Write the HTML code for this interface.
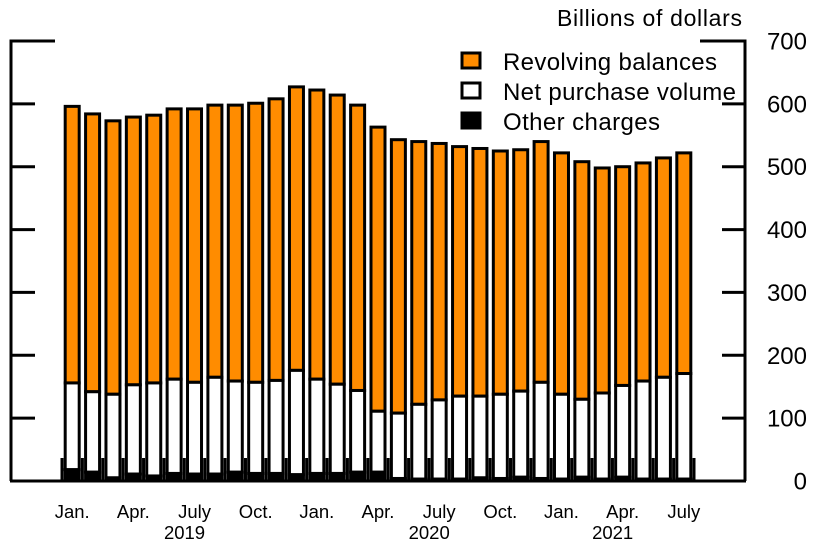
<!DOCTYPE html>
<html><head><meta charset="utf-8"><style>
html,body{margin:0;padding:0;background:#fff;}
svg{display:block;font-family:"Liberation Sans",sans-serif;}
</style></head><body>
<svg id="chart" width="823" height="552" viewBox="0 0 823 552" xmlns="http://www.w3.org/2000/svg">
<text x="742" y="26" text-anchor="end" font-size="23" textLength="185">Billions of dollars</text>
<g id="axes"></g>
<g id="bars"></g>
<g id="legend">
<rect x="462" y="53" width="18" height="15" fill="#ff8c00" stroke="#000" stroke-width="3"/>
<text x="503" y="70" font-size="24" textLength="214">Revolving balances</text>
<rect x="462" y="83" width="18" height="15" fill="#fff" stroke="#000" stroke-width="3"/>
<text x="503" y="100" font-size="24" textLength="233">Net purchase volume</text>
<rect x="462" y="113" width="18" height="15" fill="#000" stroke="#000" stroke-width="3"/>
<text x="503" y="130" font-size="24" textLength="157">Other charges</text>
</g>
</svg>
<script>
const totals=[596,584,573,579,582,592,592,598,598,601,608,627,622,614,598,563,543,540,537,532,529,525,527,540,522,508,498,500,506,514,522];
const netTop=[156,142,138,153,156,162,157,165,159,157,160,176,162,154,144,111,108,122,129,135,135,138,143,157,138,130,140,152,159,165,171];
const other=[18,14,5,11,8,12,11,11,14,12,12,10,12,12,14,14,4,3,3,3,5,4,6,4,3,6,3,6,3,3,3];
const yTicks=[0,100,200,300,400,500,600,700];
const xLabels=[[0,"Jan."],[3,"Apr."],[6,"July"],[9,"Oct."],[12,"Jan."],[15,"Apr."],[18,"July"],[21,"Oct."],[24,"Jan."],[27,"Apr."],[30,"July"]];
const years=[[6,"2019"],[18,"2020"],[27,"2021"]];

const NS="http://www.w3.org/2000/svg";
const y0=481, sc=440/700, x0=62, step=632/31, bw=14;
const Y=v=>y0-v*sc;
const Xc=i=>x0+step*(i+0.5);
function mk(tag,attrs,parent){const e=document.createElementNS(NS,tag);for(const k in attrs)e.setAttribute(k,attrs[k]);parent.appendChild(e);return e;}
const axes=document.getElementById('axes'), bars=document.getElementById('bars');

for(let i=0;i<totals.length;i++){
  const g=mk('g',{},bars);
  
  
  const x=Xc(i)-bw/2;
  const r1=mk('rect',{x:x,y:Y(totals[i]),width:bw,height:Y(netTop[i])-Y(totals[i]),fill:'#ff8c00',stroke:'#000','stroke-width':3},g);
  
  
  const r2=mk('rect',{x:x,y:Y(netTop[i]),width:bw,height:Y(other[i])-Y(netTop[i]),fill:'#fff',stroke:'#000','stroke-width':3},g);
  
  
  const r3=mk('rect',{x:x,y:Y(other[i]),width:bw,height:y0-Y(other[i]),fill:'#000',stroke:'#000','stroke-width':3},g);
  
  
}
for(let i=0;i<=totals.length;i++){
  const t=mk('line',{x1:x0+step*i,x2:x0+step*i,y1:458,y2:y0,stroke:'#000','stroke-width':3},axes);
  
  
}
const base=mk('line',{x1:10,x2:746,y1:y0,y2:y0,stroke:'#000','stroke-width':3},axes);


const la=mk('line',{x1:11,x2:11,y1:Y(700)-1.5,y2:y0,stroke:'#000','stroke-width':3},axes);


const ra=mk('line',{x1:745,x2:745,y1:Y(700)-1.5,y2:y0,stroke:'#000','stroke-width':3},axes);


yTicks.forEach(v=>{
  if(v>0){
    const a=mk('line',{x1:11,x2:v==700?55:35,y1:Y(v),y2:Y(v),stroke:'#000','stroke-width':3},axes);
    
    
    const b=mk('line',{x1:v==700?700:722,x2:745,y1:Y(v),y2:Y(v),stroke:'#000','stroke-width':3},axes);
    
    
  }
  const t=mk('text',{x:807,y:Y(v)+8.5,'text-anchor':'end','font-size':24},axes);
  t.textContent=v;
  
  
});
xLabels.forEach(([i,s])=>{
  const t=mk('text',{x:Xc(i),y:518,'text-anchor':'middle','font-size':18.5},axes);
  t.textContent=s;
  
  
});
years.forEach(([i,s])=>{
  const t=mk('text',{x:Xc(i)-10,y:539,'text-anchor':'middle','font-size':18.5},axes);
  t.textContent=s;
  
  
});
</script>
</body></html>
